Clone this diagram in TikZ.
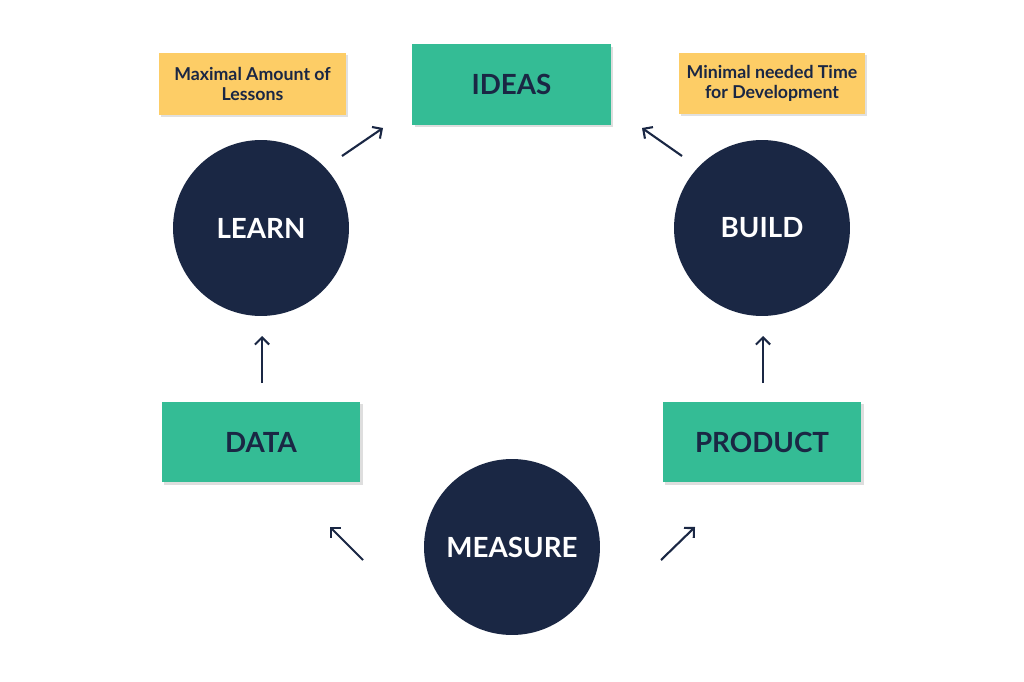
\documentclass[tikz,border=0pt]{standalone}
\usepackage{fontspec}
\setmainfont{Lato}
\usetikzlibrary{arrows.meta,shadows}
\definecolor{grn}{HTML}{34BC95}
\definecolor{navy}{HTML}{1A2744}
\definecolor{ylw}{HTML}{FDCD66}
\begin{document}
\begin{tikzpicture}[x=0.02cm,y=-0.02cm,
  greenbox/.style={fill=grn, minimum width=3.98cm, minimum height=1.62cm, inner sep=0pt,
    text=navy, font=\fontsize{15.8}{18}\selectfont\bfseries,
    drop shadow={shadow xshift=0.05cm, shadow yshift=-0.05cm, fill=black, opacity=0.13}},
  notebox/.style={fill=ylw, minimum width=3.74cm, minimum height=1.24cm, inner sep=0pt,
    text=navy, align=center, font=\fontsize{10.1}{11.8}\selectfont\bfseries,
    drop shadow={shadow xshift=0.04cm, shadow yshift=-0.04cm, fill=black, opacity=0.12}},
  circ/.style={circle, fill=navy, minimum size=3.52cm, inner sep=0pt,
    text=white, font=\fontsize{15.8}{18}\selectfont\bfseries},
  arr/.style={draw=navy, line width=1.2pt, -{Straight Barb[length=4pt,width=8pt]}}]
\useasboundingbox[fill=white] (0,0) rectangle (1024,682);
\node[notebox] (lessons) at (252.5,84) {Maximal Amount of\\Lessons};
\node[greenbox] (ideas) at (511.5,84.5) {IDEAS};
\node[notebox] (time) at (772,83.5) {Minimal needed Time\\for Development};
\node[circ] (learn) at (261,228) {LEARN};
\node[circ] (build) at (762,228) {BUILD};
\node[greenbox] (data) at (261,442) {DATA};
\node[greenbox] (product) at (762,442) {PRODUCT};
\node[circ] (measure) at (512,547) {MEASURE};
\coordinate (a1s) at (342,156); \coordinate (a1e) at (383,128);
\coordinate (a2s) at (682,156); \coordinate (a2e) at (642,128);
\coordinate (a3s) at (262,383); \coordinate (a3e) at (262,336);
\coordinate (a4s) at (763,383); \coordinate (a4e) at (763,336);
\coordinate (a5s) at (363,560); \coordinate (a5e) at (330,527);
\coordinate (a6s) at (661,560); \coordinate (a6e) at (695,527);
\draw[arr] (a1s) -- (a1e);
\draw[arr] (a2s) -- (a2e);
\draw[arr] (a3s) -- (a3e);
\draw[arr] (a4s) -- (a4e);
\draw[arr] (a5s) -- (a5e);
\draw[arr] (a6s) -- (a6e);
\end{tikzpicture}
\end{document}
